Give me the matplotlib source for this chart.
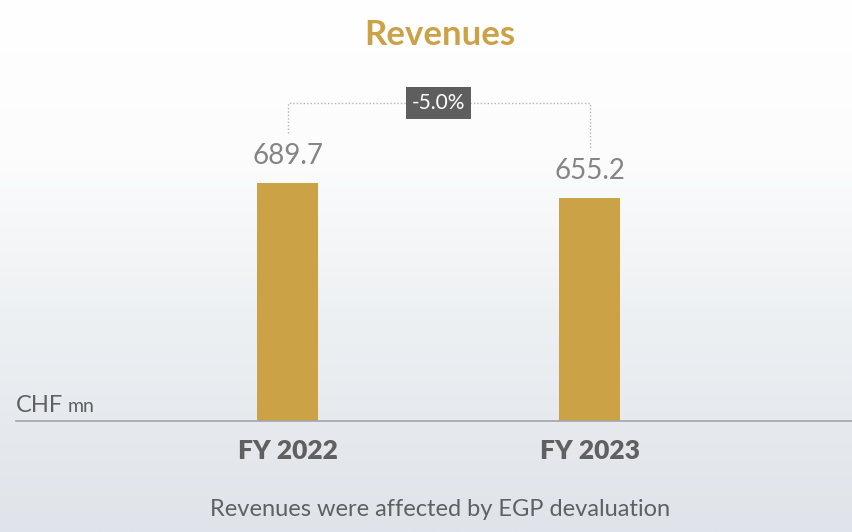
import numpy as np
import matplotlib.pyplot as plt
import matplotlib.colors as mcolors

years = ['FY 2022', 'FY 2023']
revenues = [689.7, 655.2]
change_label = '-5.0%'

gold = '#CCA246'
grey = '#606060'

plt.rcParams['font.family'] = ['Lato', 'DejaVu Sans']

fig = plt.figure(figsize=(8.52, 5.32), dpi=100)

# background gradient: white at top, pale blue-grey at the bottom
bg = fig.add_axes([0, 0, 1, 1], zorder=-1)
cmap = mcolors.LinearSegmentedColormap.from_list(
    'bg', [(0.0, '#ffffff'), (0.3, '#fcfcfd'), (0.6, '#edf0f3'), (1.0, '#dfe4ea')])
grad = np.linspace(0, 1, 256).reshape(-1, 1)
bg.imshow(grad, aspect='auto', cmap=cmap, extent=[0, 1, 0, 1], origin='upper')
bg.set_axis_off()

ax = fig.add_axes([16 / 852, 1 - 421 / 532, 1 - 16 / 852, (421 - 60) / 532])
ax.patch.set_alpha(0)
x = np.arange(len(years))
ax.bar(x, revenues, width=0.202, color=gold, zorder=2)
ax.set_xlim(-0.899, 1.869)
ax.set_ylim(142, 972)

for s in ['top', 'right', 'left']:
    ax.spines[s].set_visible(False)
ax.spines['bottom'].set_color('#a5a5a5')
ax.spines['bottom'].set_linewidth(1.2)
ax.set_yticks([])
ax.set_xticks(x)
ax.set_xticklabels(years, fontsize=19, fontweight='heavy', color=grey)
ax.tick_params(axis='x', length=0, pad=13)

for xi, v in zip(x, revenues):
    ax.annotate(f'{v:.1f}', (xi, v), xytext=(0, 10), textcoords='offset points',
                ha='center', va='bottom', fontsize=20, fontweight='normal', color='#858585')

# bracket with change label
top = max(revenues) + 184
ls = dict(color='#b5b5b5', lw=1, ls=(0, (1, 1.5)))
ax.plot([x[0], x[0], x[1], x[1]],
        [revenues[0] + 115, top, top, revenues[1] + 110], **ls)
ax.text((x[0] + x[1]) / 2, top, change_label, ha='center', va='center',
        fontsize=15, color='white',
        bbox=dict(boxstyle='square,pad=0.3', fc='#5e5e5e', ec='none'))

fig.text(16 / 852, 1 - 412 / 532, 'CHF', fontsize=17, color=grey, va='baseline')
fig.text(68 / 852, 1 - 412 / 532, 'mn', fontsize=14, color=grey, va='baseline')

fig.text(440 / 852, 1 - 35 / 532, 'Revenues', ha='center', va='center',
         fontsize=25, fontweight='bold', color=gold)
fig.text(440 / 852, 1 - 509 / 532, 'Revenues were affected by EGP devaluation',
         ha='center', va='center', fontsize=17, color=grey)

fig.savefig('out.png', dpi=100)
